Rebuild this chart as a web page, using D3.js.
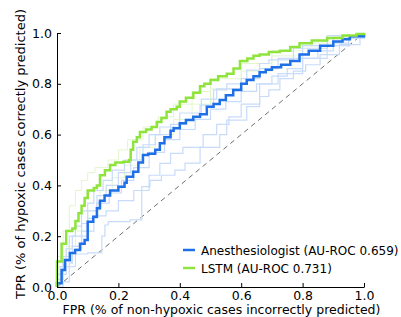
<!DOCTYPE html>
<html>
<head>
<meta charset="utf-8">
<script src="https://cdn.jsdelivr.net/npm/d3@7"></script>
<style>
  body { margin: 0; background: #fff; }
  svg { display: block; font-family: "DejaVu Sans", sans-serif; }
</style>
</head>
<body>
<div id="chart"></div>
<script>
// ROC points as [FPR, TPR]
const lstm = [[0,0],[0,0.1],[0.015,0.1],[0.015,0.17],[0.03,0.22],[0.05,0.23],[0.06,0.26],[0.07,0.29],[0.08,0.32],[0.09,0.35],[0.1,0.38],[0.12,0.39],[0.13,0.40],[0.14,0.44],[0.156,0.46],[0.173,0.48],[0.19,0.49],[0.216,0.493],[0.235,0.5],[0.24,0.54],[0.248,0.572],[0.26,0.59],[0.27,0.61],[0.29,0.62],[0.308,0.63],[0.325,0.65],[0.34,0.665],[0.357,0.69],[0.37,0.70],[0.39,0.71],[0.40,0.73],[0.42,0.745],[0.444,0.765],[0.466,0.79],[0.48,0.80],[0.50,0.815],[0.525,0.83],[0.553,0.84],[0.575,0.86],[0.596,0.89],[0.62,0.90],[0.64,0.91],[0.66,0.915],[0.69,0.925],[0.726,0.93],[0.76,0.945],[0.79,0.96],[0.83,0.97],[0.88,0.98],[0.93,0.99],[0.976,0.996],[1,1]];

const anesthesiologist = [[0,0],[0,0.015],[0.015,0.015],[0.015,0.067],[0.026,0.106],[0.042,0.134],[0.059,0.146],[0.075,0.17],[0.09,0.185],[0.10,0.257],[0.118,0.277],[0.13,0.31],[0.14,0.34],[0.155,0.36],[0.173,0.38],[0.2,0.395],[0.22,0.41],[0.227,0.434],[0.248,0.454],[0.265,0.49],[0.28,0.52],[0.297,0.525],[0.32,0.54],[0.335,0.566],[0.35,0.59],[0.37,0.615],[0.38,0.625],[0.40,0.645],[0.42,0.657],[0.444,0.67],[0.466,0.68],[0.488,0.71],[0.51,0.72],[0.53,0.736],[0.55,0.755],[0.574,0.776],[0.60,0.80],[0.618,0.815],[0.64,0.83],[0.66,0.845],[0.68,0.855],[0.70,0.865],[0.73,0.875],[0.76,0.89],[0.79,0.915],[0.82,0.93],[0.857,0.95],[0.9,0.967],[0.93,0.975],[0.954,0.987],[1,0.996],[1,1]];

// individual anesthesiologists (faint blue)
const individuals = [
  [[0,0],[0.02,0.02],[0.04,0.094],[0.05,0.13],[0.1,0.134],[0.146,0.2],[0.156,0.244],[0.167,0.257],[0.238,0.264],[0.276,0.3],[0.276,0.395],[0.303,0.42],[0.34,0.44],[0.384,0.46],[0.417,0.488],[0.466,0.55],[0.53,0.6],[0.553,0.657],[0.618,0.71],[0.66,0.75],[0.69,0.776],[0.726,0.82],[0.77,0.85],[0.81,0.875],[0.857,0.915],[0.92,0.954],[0.987,0.98],[1,1]],
  [[0,0],[0,0.05],[0.03,0.08],[0.06,0.15],[0.08,0.2],[0.1,0.22],[0.12,0.28],[0.16,0.3],[0.2,0.34],[0.25,0.38],[0.3,0.44],[0.335,0.487],[0.37,0.526],[0.41,0.55],[0.476,0.6],[0.52,0.64],[0.56,0.67],[0.6,0.72],[0.66,0.80],[0.72,0.84],[0.8,0.9],[0.88,0.95],[0.95,0.98],[1,1]],
  [[0,0],[0,0.05],[0.02,0.12],[0.04,0.2],[0.06,0.24],[0.08,0.3],[0.1,0.33],[0.12,0.38],[0.15,0.42],[0.18,0.46],[0.22,0.5],[0.26,0.55],[0.3,0.6],[0.335,0.63],[0.40,0.685],[0.466,0.716],[0.51,0.776],[0.553,0.80],[0.618,0.854],[0.66,0.88],[0.69,0.894],[0.77,0.94],[0.88,0.99],[1,1]],
  [[0,0],[0.01,0.08],[0.03,0.15],[0.05,0.2],[0.08,0.25],[0.1,0.3],[0.13,0.36],[0.16,0.4],[0.2,0.45],[0.24,0.5],[0.28,0.56],[0.32,0.6],[0.37,0.64],[0.42,0.66],[0.466,0.68],[0.47,0.74],[0.52,0.78],[0.6,0.82],[0.66,0.86],[0.72,0.9],[0.8,0.95],[0.9,0.98],[1,1]],
  [[0,0],[0,0.03],[0.02,0.1],[0.05,0.16],[0.08,0.22],[0.1,0.27],[0.13,0.33],[0.17,0.37],[0.21,0.42],[0.25,0.47],[0.3,0.53],[0.35,0.58],[0.4,0.62],[0.45,0.66],[0.5,0.7],[0.55,0.73],[0.6,0.77],[0.65,0.8],[0.7,0.83],[0.75,0.86],[0.8,0.9],[0.85,0.93],[0.9,0.96],[0.95,0.985],[1,1]]
];

// faint LSTM variants (light green)
const lstmRuns = [
  [[0,0],[0,0.12],[0.02,0.22],[0.04,0.32],[0.06,0.38],[0.08,0.42],[0.1,0.45],[0.124,0.47],[0.166,0.5],[0.2,0.54],[0.23,0.58],[0.28,0.63],[0.33,0.67],[0.38,0.72],[0.44,0.77],[0.5,0.82],[0.6,0.88],[0.7,0.93],[0.8,0.96],[0.9,0.985],[1,1]],
  [[0,0],[0,0.08],[0.03,0.16],[0.06,0.22],[0.1,0.3],[0.14,0.38],[0.18,0.43],[0.22,0.48],[0.27,0.55],[0.32,0.6],[0.38,0.66],[0.44,0.72],[0.5,0.78],[0.6,0.85],[0.7,0.91],[0.8,0.95],[0.9,0.98],[1,1]]
];

const ticks = [0, 0.2, 0.4, 0.6, 0.8, 1.0];
const legendLabels = ["Anesthesiologist (AU-ROC 0.659)", "LSTM (AU-ROC 0.731)"];

const blue = "#1f6fe8", green = "#8ee43c";

// plot box in pixels
const margin = { top: 33, right: 37, bottom: 30, left: 57 };
const width = 401 - margin.left - margin.right;
const height = 317 - margin.top - margin.bottom;

var svg = d3.select("#chart")
    .append("svg")
    .attr("width", 401)
    .attr("height", 317)
    .append("g")
    .attr("transform", "translate(" + margin.left + "," + margin.top + ")");

var x = d3.scaleLinear().domain([0, 1]).range([0, width]);
var y = d3.scaleLinear().domain([0, 1]).range([height, 0]);

var line = d3.line()
    .x(d => x(d[0]))
    .y(d => y(d[1]))
    .curve(d3.curveStepAfter);

// chance diagonal
svg.append("path")
    .attr("d", d3.line().x(d => x(d[0])).y(d => y(d[1]))([[0, 0], [1, 1]]))
    .attr("fill", "none")
    .attr("stroke", "#6e6e6e")
    .attr("stroke-width", 1)
    .attr("stroke-dasharray", "5,4");

svg.append("g").selectAll("path")
    .data(lstmRuns)
    .enter().append("path")
    .attr("d", line)
    .attr("fill", "none")
    .attr("stroke", "#e2f6cc")
    .attr("stroke-width", 1);

svg.append("g").selectAll("path")
    .data(individuals)
    .enter().append("path")
    .attr("d", line)
    .attr("fill", "none")
    .attr("stroke", "#c8dbfa")
    .attr("stroke-width", 1.2);

svg.append("path")
    .attr("d", line(anesthesiologist))
    .attr("fill", "none")
    .attr("stroke", blue)
    .attr("stroke-width", 2.5);

svg.append("path")
    .attr("d", line(lstm))
    .attr("fill", "none")
    .attr("stroke", green)
    .attr("stroke-width", 2.5);

// axes, ticks pointing inward
var xAxis = svg.append("g")
    .attr("transform", "translate(0," + height + ")")
    .call(d3.axisBottom(x).tickValues(ticks).tickFormat(d3.format(".1f"))
        .tickSizeInner(-4).tickSizeOuter(0).tickPadding(4));
var yAxis = svg.append("g")
    .call(d3.axisLeft(y).tickValues(ticks).tickFormat(d3.format(".1f"))
        .tickSizeInner(-4).tickSizeOuter(0).tickPadding(5));

[xAxis, yAxis].forEach(a => {
    a.selectAll("text").attr("font-size", 12.5).attr("font-family", "DejaVu Sans").attr("fill", "#000");
    a.selectAll("line, path").attr("stroke", "#000");
});

// axis labels
svg.append("text")
    .attr("x", width / 2 + 11)
    .attr("y", height + 26.5)
    .attr("text-anchor", "middle")
    .attr("font-size", 12.5)
    .text("FPR (% of non-hypoxic cases incorrectly predicted)");

svg.append("text")
    .attr("transform", "rotate(-90)")
    .attr("x", -height / 2 + 6)
    .attr("y", -margin.left + 25)
    .attr("text-anchor", "middle")
    .attr("font-size", 13)
    .text("TPR (% of hypoxic cases correctly predicted)");

// legend
var legend = svg.append("g")
    .attr("transform", "translate(" + (183 - margin.left) + "," + (250 - margin.top) + ")");
legend.selectAll("line")
    .data(legendLabels)
    .enter().append("line")
    .attr("x1", 0).attr("x2", 12)
    .attr("y1", (d, i) => i * 18).attr("y2", (d, i) => i * 18)
    .attr("stroke", (d, i) => i == 0 ? blue : green)
    .attr("stroke-width", 2.5);
legend.selectAll("text")
    .data(legendLabels)
    .enter().append("text")
    .attr("x", 18)
    .attr("y", (d, i) => i * 18 + 4.5)
    .attr("font-size", 12)
    .text(d => d);
</script>
</body>
</html>
